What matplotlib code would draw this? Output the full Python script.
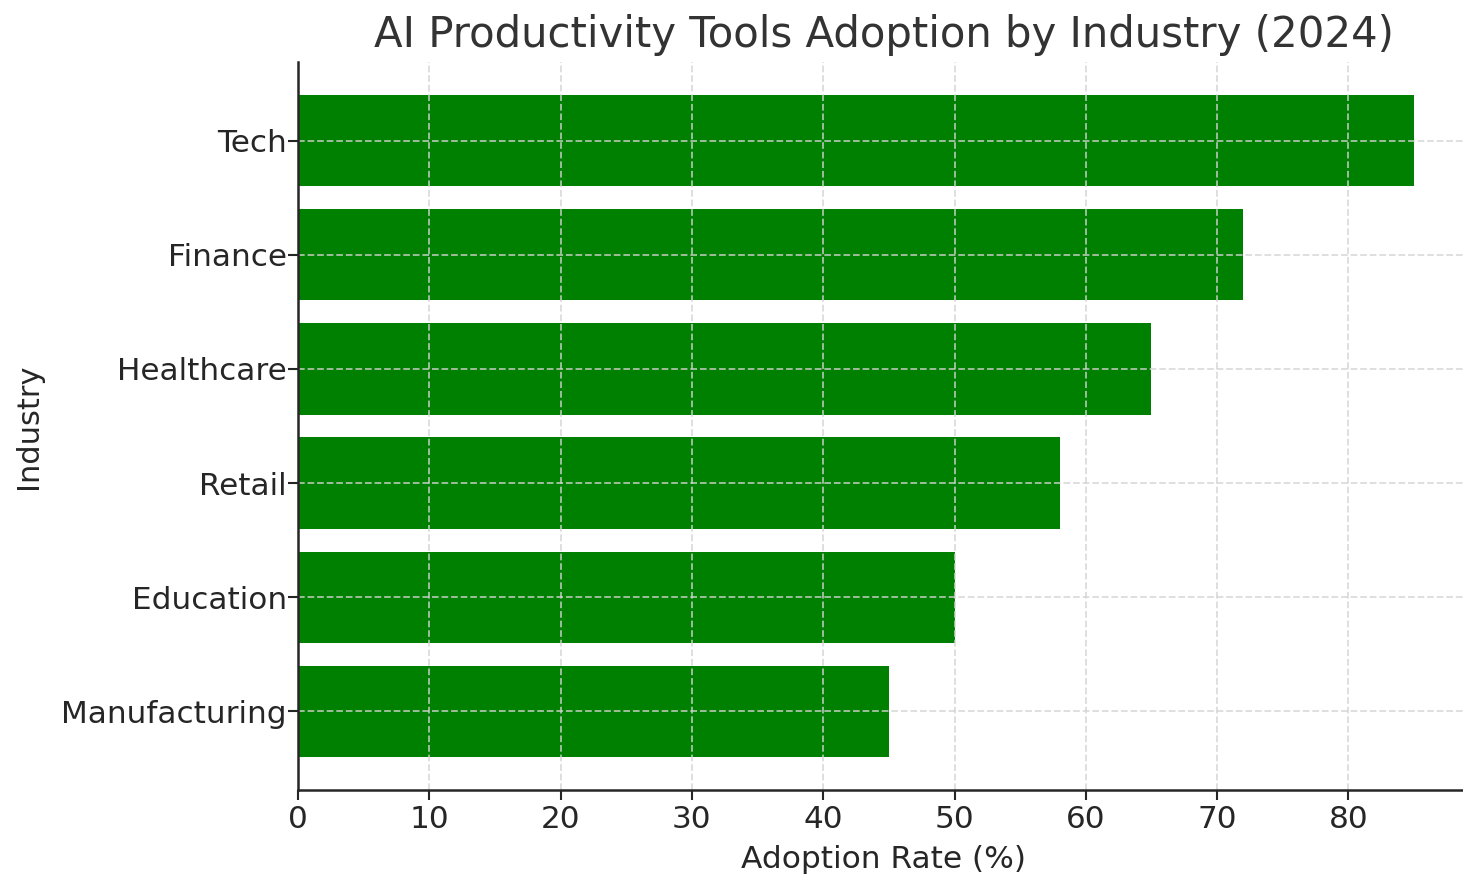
import matplotlib
matplotlib.use("Agg")
import matplotlib.pyplot as plt

# Data
industries = ["Tech", "Finance", "Healthcare", "Retail", "Education", "Manufacturing"]
adoption = [85, 72, 65, 58, 50, 45]

TEXT_COLOR = "#262626"

plt.rcParams["font.family"] = ["DejaVu Sans"]
plt.rcParams["text.color"] = TEXT_COLOR
plt.rcParams["axes.labelcolor"] = TEXT_COLOR
plt.rcParams["xtick.color"] = TEXT_COLOR
plt.rcParams["ytick.color"] = TEXT_COLOR

fig = plt.figure(figsize=(14.63, 8.77), dpi=100)
ax = fig.add_axes([0.2037, 0.0992, 0.801, 0.8301])

# Reverse so the first industry ends up on top.
ax.barh(industries[::-1], adoption[::-1], color="green", height=0.8)
ax.set_xlim(0, 89.25)

ax.set_title("AI Productivity Tools Adoption by Industry (2024)",
             fontsize=30.2, pad=11, color="#333333")
ax.set_xlabel("Adoption Rate (%)", fontsize=22.5, labelpad=8)
ax.set_ylabel("Industry", fontsize=22, labelpad=13)

ax.tick_params(axis="both", labelsize=22.4, length=7, width=1.5, color=TEXT_COLOR)
ax.tick_params(axis="y", pad=1)
ax.grid(True, linestyle="--", color="#d3d3d3", alpha=0.8, linewidth=1.3)

ax.spines["top"].set_visible(False)
ax.spines["right"].set_visible(False)
for side in ("left", "bottom"):
    ax.spines[side].set_linewidth(1.8)
    ax.spines[side].set_color(TEXT_COLOR)

fig.savefig("out.png", dpi=100)
